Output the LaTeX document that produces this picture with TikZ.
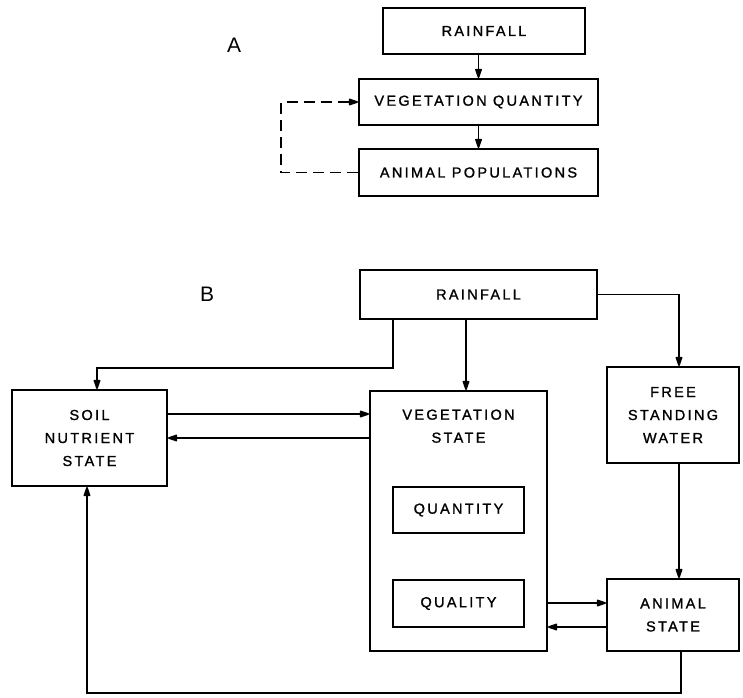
\documentclass[tikz,border=0pt]{standalone}
\usepackage{fontspec}
\newfontfamily\diagfont[LetterSpace=16,FakeBold=1.2]{Liberation Sans}
\usetikzlibrary{arrows.meta,positioning}

\begin{document}
\begin{tikzpicture}[
  x=1pt, y=-1pt,
  font=\diagfont\fontsize{14.5}{23}\selectfont,
  box/.style={draw, line width=2pt, align=center, inner sep=0pt, fill=white},
  arrow/.style={-{Triangle[length=11pt,width=7pt,round]}, line width=1.6pt},
  panel/.style={font=\fontspec{Liberation Sans}\fontsize{21}{22}\selectfont}
]
\useasboundingbox (0,0) rectangle (743,697);

% part A
\node[panel] (labA) at (234,45) {A};
\node[box, minimum width=202, minimum height=46] (rainA) at (484,31) {RAINFALL};
\node[box, minimum width=239, minimum height=46] (vegA) at (478.5,102) {VEGETATION QUANTITY};
\node[box, minimum width=239, minimum height=47] (animA) at (478.5,172.5) {ANIMAL POPULATIONS};

\draw[arrow] (rainA.south -| vegA.north) -- (vegA.north);
\draw[arrow] (vegA) -- (animA);
\draw[arrow, dash pattern=on 11pt off 6pt] (animA.west) -- ++(-77,0) |- (vegA.west);

% part B
\node[panel] (labB) at (207,294) {B};
\node[box, minimum width=237, minimum height=49] (rainB) at (478.5,294.5) {RAINFALL};
\node[box, minimum width=155, minimum height=96] (soil) at (89.5,438) {SOIL\\NUTRIENT\\STATE};
\node[box, minimum width=177, minimum height=260] (vegS) at (458.5,521) {};
\node[below=16pt of vegS.north, align=center] (vegtitle) {VEGETATION\\STATE};
\node[box, minimum width=131, minimum height=46] (quant) at (458.5,510) {QUANTITY};
\node[box, minimum width=131, minimum height=47] (qual) at (458.5,603.5) {QUALITY};
\node[box, minimum width=132, minimum height=96] (water) at (673,415) {FREE\\STANDING\\WATER};
\node[box, minimum width=132, minimum height=72] (animal) at (673,615) {ANIMAL\\STATE};

\draw[arrow] ([xshift=-85.5pt]rainB.south) -- ++(0,48) -| ([xshift=7.5pt]soil.north);
\draw[arrow] ([xshift=-12.5pt]rainB.south) -- ([xshift=7.5pt]vegS.north);
\draw[arrow] (rainB.east) -| ([xshift=6pt]water.north);
\draw[arrow] ([yshift=24pt]soil.east) -- ([yshift=24pt]soil.east -| vegS.west);
\draw[arrow] (vegS.west |- soil.east) -- (soil.east);
\draw[arrow] ([xshift=6pt]water.south) -- ([xshift=6pt]animal.north);
\draw[arrow] ([yshift=12pt]animal.west -| vegS.east) -- ([yshift=12pt]animal.west);
\draw[arrow] ([yshift=-12pt]animal.west) -- ([yshift=-12pt]animal.west -| vegS.east);
\draw[arrow] ([xshift=8pt]animal.south) -- ++(0,41) -| ([xshift=-2.5pt]soil.south);

\end{tikzpicture}
\end{document}
